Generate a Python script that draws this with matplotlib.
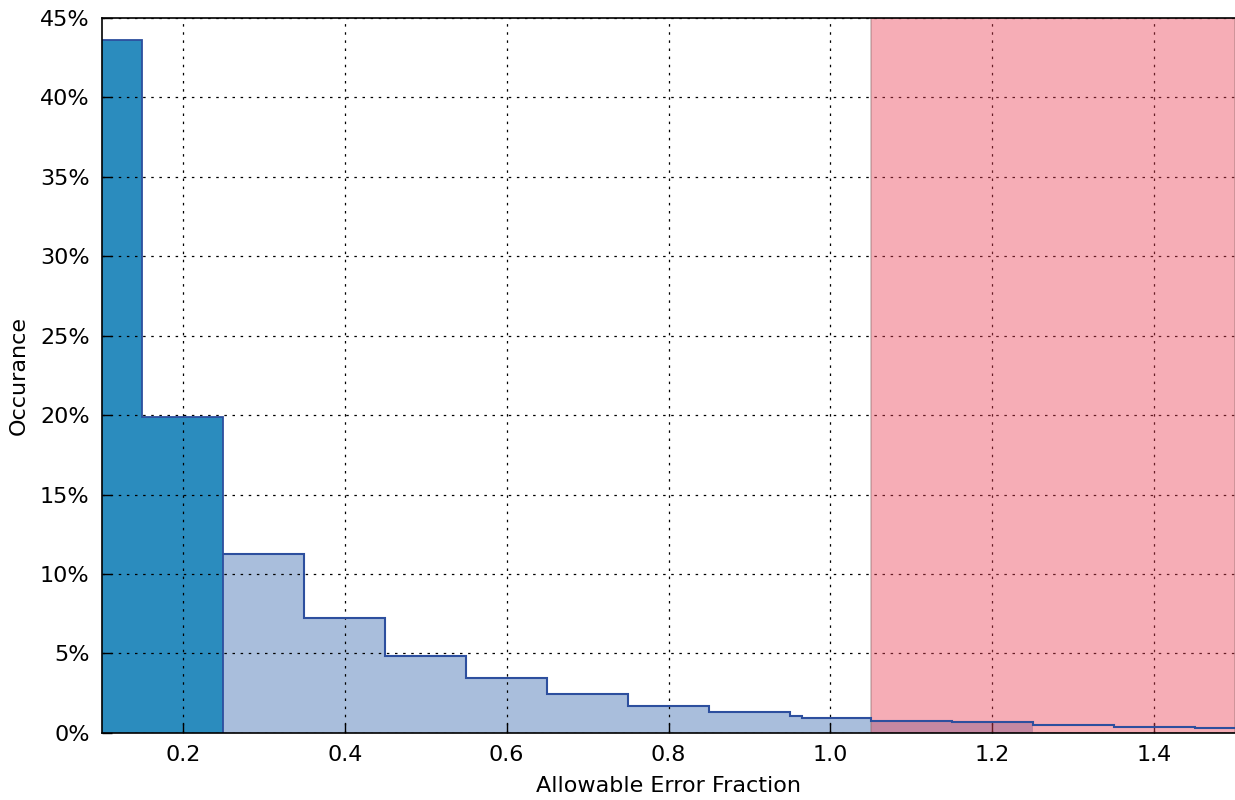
import numpy as np
import matplotlib
matplotlib.use("Agg")
import matplotlib.pyplot as plt
from matplotlib.ticker import FuncFormatter

# Histogram data (percent of occurrences per bin)
dark_edges = [0.05, 0.15, 0.25]
dark_values = [43.6, 19.85]

light_edges = [0.25, 0.35, 0.45, 0.55, 0.65, 0.75, 0.85, 0.95, 0.965,
               1.05, 1.15, 1.25, 1.35, 1.45, 1.55]
light_values = [11.27, 7.24, 4.85, 3.46, 2.45, 1.7, 1.28, 1.03, 0.94,
                0.74, 0.65, 0.46, 0.34, 0.32]
light_fill_end = 1.25

danger_start = 1.05
danger_end = 1.5

x_ticks = [0.2, 0.4, 0.6, 0.8, 1.0, 1.2, 1.4]
y_ticks = [0, 5, 10, 15, 20, 25, 30, 35, 40, 45]

dark_color = "#2b8cbe"
light_color = "#a9bedc"
edge_color = "#2d4f9e"

fig = plt.figure(figsize=(12.35, 8), dpi=100)
ax = fig.add_axes([0.0826, 0.084, 0.9174, 0.8935])

# dark bins
ax.stairs(dark_values, dark_edges, fill=True, facecolor=dark_color,
          edgecolor="none", zorder=2)
ax.stairs(dark_values, dark_edges, fill=False, edgecolor=edge_color,
          linewidth=1.3, zorder=4)

# light bins: fill only up to light_fill_end, outline to the end
edges = np.array(light_edges)
vals = np.array(light_values)
n_fill = int(np.searchsorted(edges, light_fill_end))
ax.stairs(vals[:n_fill], edges[:n_fill + 1], fill=True,
          facecolor=light_color, edgecolor="none", zorder=2)
ax.stairs(vals, edges, fill=False, edgecolor=edge_color, linewidth=1.5,
          baseline=None, zorder=4)

# region beyond the allowable fraction
ax.axvspan(danger_start, danger_end, facecolor="#ec4256", alpha=0.43,
           edgecolor="#8a6a6a", linewidth=1.2, zorder=3)

ax.set_xlim(0.1, 1.5)
ax.set_ylim(0, 45)
ax.set_xticks(x_ticks)
ax.set_yticks(y_ticks)
ax.yaxis.set_major_formatter(FuncFormatter(lambda v, p: f"{v:.0f}%"))

ax.grid(True, color="black", linestyle=(0, (2, 4.5)), linewidth=0.9, zorder=5)
ax.set_axisbelow(False)
ax.tick_params(direction="in", length=7, width=1, labelsize=16,
               top=False, right=False, pad=9)
for s in ax.spines.values():
    s.set_linewidth(1.2)
    s.set_zorder(6)
ax.spines["right"].set_visible(False)

ax.set_xlabel("Allowable Error Fraction", fontsize=16, labelpad=8)
ax.set_ylabel("Occurance", fontsize=16, labelpad=8)

fig.savefig("out.png", dpi=100)
